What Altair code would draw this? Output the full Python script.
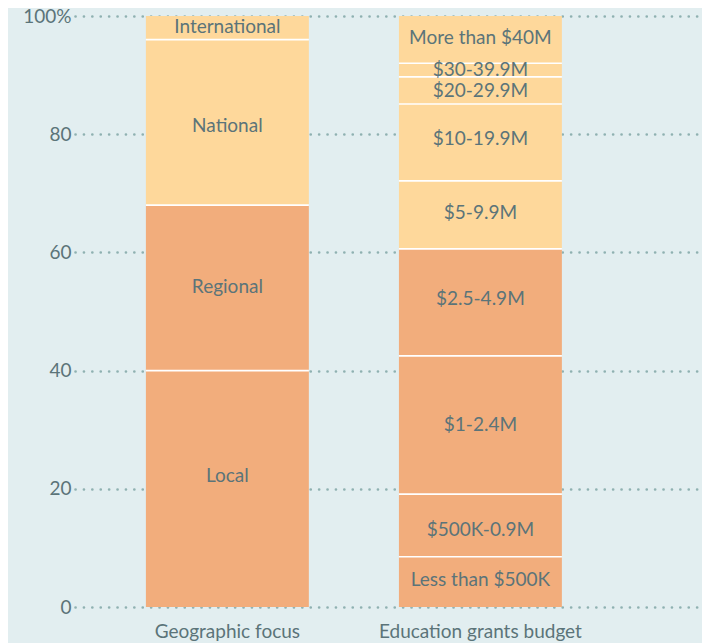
import altair as alt
import pandas as pd

categories = ["Geographic focus", "Education grants budget"]

geo_labels = ["Local", "Regional", "National", "International"]
geo_values = [40, 28, 28, 4]
geo_tiers = ["low", "low", "high", "high"]
geo_label_y = [22.2, 54.1, 81.4, 98.1]

edu_labels = ["Less than $500K", "$500K-0.9M", "$1-2.4M", "$2.5-4.9M", "$5-9.9M",
              "$10-19.9M", "$20-29.9M", "$30-39.9M", "More than $40M"]
edu_values = [8.5, 10.6, 23.4, 18.1, 11.5, 13.0, 4.6, 2.3, 8.0]
edu_tiers = ["low", "low", "low", "low", "high", "high", "high", "high", "high"]
edu_label_y = [4.6, 13.0, 30.8, 52.1, 66.7, 79.2, 87.3, 90.9, 96.3]

rows = []
for cat, labels, values, tiers, ly in [
    (categories[0], geo_labels, geo_values, geo_tiers, geo_label_y),
    (categories[1], edu_labels, edu_values, edu_tiers, edu_label_y),
]:
    start = 0.0
    for lab, v, t, yy in zip(labels, values, tiers, ly):
        end = start + v
        rows.append({"cat": cat, "label": lab, "start": start, "end": end,
                     "ly": yy, "tier": t})
        start = end
df = pd.DataFrame(rows)
df_sep = df[df["end"] < 99.9]

TEXT = "#5b7479"
FONT = "Lato"
FS = 19

x = alt.X("cat:N", sort=categories, title=None,
          scale=alt.Scale(paddingInner=0.356, paddingOuter=0.417, align=0.336),
          axis=alt.Axis(labelAngle=0, ticks=False, domain=False, labelPadding=15,
                        labelLimit=0, labelFontSize=FS, labelColor=TEXT, labelFont=FONT))
y_scale = alt.Scale(domain=[0, 100], nice=False)

bars = alt.Chart(df).mark_bar().encode(
    x=x,
    y=alt.Y("start:Q", scale=y_scale, title=None,
            axis=alt.Axis(values=[0, 20, 40, 60, 80, 100], ticks=False, domain=False,
                          labelExpr="datum.value == 100 ? '100%' : datum.label",
                          labelFontSize=FS, labelColor=TEXT, labelFont=FONT, labelPadding=4,
                          grid=True, gridColor="#8fb1b1", gridDash=[0.1, 8.3],
                          gridCap="round", gridWidth=2.6)),
    y2="end:Q",
    color=alt.Color("tier:N", scale=alt.Scale(domain=["low", "high"],
                                              range=["#f2ad7c", "#fed89b"]), legend=None),
)

seps = alt.Chart(df_sep).mark_tick(color="white", thickness=1.6, size=163, opacity=1).encode(
    x=alt.X("cat:N", sort=categories),
    y=alt.Y("end:Q", scale=y_scale),
)

texts = alt.Chart(df).mark_text(fontSize=FS, color=TEXT, font=FONT, baseline="middle").encode(
    x=alt.X("cat:N", sort=categories),
    y=alt.Y("ly:Q", scale=y_scale),
    text="label:N",
)

chart = alt.layer(bars, seps, texts).properties(
    width=627, height=591,
    background="#e2eef0",
    autosize=alt.AutoSizeParams(type="none"),
    padding={"left": 67, "top": 8, "right": 0, "bottom": 40},
).configure_view(stroke=None)

chart.save("out.html", embed_options={"renderer": "svg", "actions": False})
